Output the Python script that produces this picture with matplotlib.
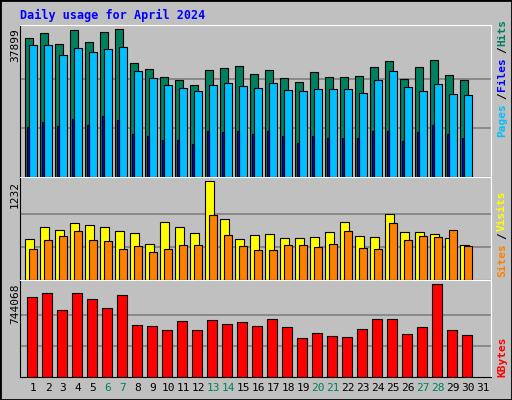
import matplotlib.pyplot as plt
from matplotlib.patches import Rectangle

days = list(range(1, 31))
hits = [35583, 36869, 34039, 37640, 34553, 37126, 37899, 29152, 27608, 25551, 24779, 23493, 27351, 27866, 28380,
        26322, 27351, 25293, 24265, 26837, 25551, 25551, 25808, 28123, 29666, 25036, 28123, 29923, 26065, 24779]
files = [33782, 33782, 31210, 33010, 31981, 32753, 33267, 27094, 25293, 23493, 22721, 21950, 23493, 24007, 23236,
         22721, 24007, 22207, 21950, 22464, 22464, 22464, 21435, 24779, 27094, 22979, 21950, 23750, 21178, 20921]
pages = [12947, 14233, 13204, 15005, 13461, 15776, 14747, 11146, 10632, 9603, 9603, 8574, 11918, 11661, 11918,
         11146, 11918, 10632, 8831, 10632, 10117, 10117, 10117, 11918, 11918, 9346, 11661, 13461, 11146, 10117]
visits = [509, 656, 629, 710, 683, 656, 616, 589, 455, 723, 656, 589, 1232, 763, 509,
          562, 576, 522, 522, 536, 603, 723, 549, 536, 830, 603, 603, 576, 522, 442]
sites = [388, 495, 549, 616, 495, 482, 388, 429, 348, 388, 442, 442, 817, 562, 429,
         375, 375, 442, 442, 415, 455, 616, 402, 388, 710, 495, 549, 536, 629, 429]
kbytes = [638166, 670753, 540404, 670753, 621872, 548551, 654460, 418202, 410056, 377468, 450790, 377468, 458936,
          426349, 442642, 410056, 467083, 401909, 312294, 353028, 328588, 320441, 385615, 467083, 467083, 344881,
          401909, 744068, 377468, 336734]
weekends = [6, 7, 13, 14, 20, 21, 27, 28]

W, H = 512, 400
GREY = '#c0c0c0'
GREEN = '#00805f'
mono = 'DejaVu Sans Mono'

fig = plt.figure(figsize=(W / 100, H / 100), dpi=100, facecolor=GREY)
fig.patches.append(Rectangle((0, 0), 1, 1, transform=fig.transFigure, fill=False, ec='black', lw=2))

def panel(top, bottom):
    ax = fig.add_axes([20 / W, 1 - bottom / H, 471 / W, (bottom - top) / H])
    ax.set_facecolor(GREY)
    ax.set_xlim(0.13, 31.53)
    ax.set_xticks([])
    ax.set_yticks([])
    for s in ['left', 'bottom']:
        ax.spines[s].set_color('black')
    for s in ['top', 'right']:
        ax.spines[s].set_color('white')
    return ax

def grid(ax, m):
    for f in (1 / 3, 2 / 3):
        ax.axhline(m * f, color='#808080', lw=1.2, zorder=0)

x = [d for d in days]
bk = dict(align='edge', edgecolor='black', linewidth=0.8)

ax1 = panel(25, 177)
m1 = max(hits)
ax1.set_ylim(0, m1 * 455 / 442)
grid(ax1, m1)
ax1.bar([d - 0.51 for d in x], hits, width=0.49, color=GREEN, **bk)
ax1.bar([d - 0.25 for d in x], files, width=0.5, color='#00bfff', **bk)
ax1.bar([d - 0.42 for d in x], pages, width=0.12, color='#0000ff', **bk)

ax2 = panel(177, 280)
m2 = max(visits)
ax2.set_ylim(0, m2 * 288 / 276)
grid(ax2, m2)
ax2.bar([d - 0.51 for d in x], visits, width=0.58, color='#ffff00', **bk)
ax2.bar([d - 0.25 for d in x], sites, width=0.5, color='#ff8000', **bk)

ax3 = panel(280, 377)
m3 = max(kbytes)
ax3.set_ylim(0, m3 * 286 / 274)
grid(ax3, m3)
ax3.bar([d - 0.42 for d in x], kbytes, width=0.67, color='#ff0000', **bk)

for d in range(1, 32):
    ax3.text(d, -0.06, str(d), transform=ax3.get_xaxis_transform(), ha='center', va='top',
             fontsize=8, family=mono, color=GREEN if d in weekends else 'black')

fig.text(20 / W, 1 - 15 / H, 'Daily usage for April 2024', color='#0000ff', fontsize=8.5,
         family=mono, weight='bold', va='center')

def ylab(ax, top_px, txt):
    fig.text(15 / W, 1 - top_px / H, txt, rotation=90, ha='center', va='top', fontsize=8, family=mono)

ylab(ax1, 28, '37899')
ylab(ax2, 181, '1232')
ylab(ax3, 283, '744068')

def rlab(y_bottom, parts):
    y = 1 - y_bottom / H
    for txt, col in parts:
        t = fig.text(502 / W, y, txt, rotation=90, ha='center', va='bottom', fontsize=8, family=mono,
                     color=col, weight='bold')
        y += len(txt) * 7.6 / H

rlab(137, [('Pages', '#00bfff'), ('/', 'black'), ('Files', '#0000ff'), ('/', 'black'), ('Hits', GREEN)])
rlab(277, [('Sites', '#ff8000'), ('/', 'black'), ('Visits', '#ffff00')])
rlab(377, [('KBytes', '#ff0000')])

fig.savefig('out.png', dpi=100, facecolor=GREY)
